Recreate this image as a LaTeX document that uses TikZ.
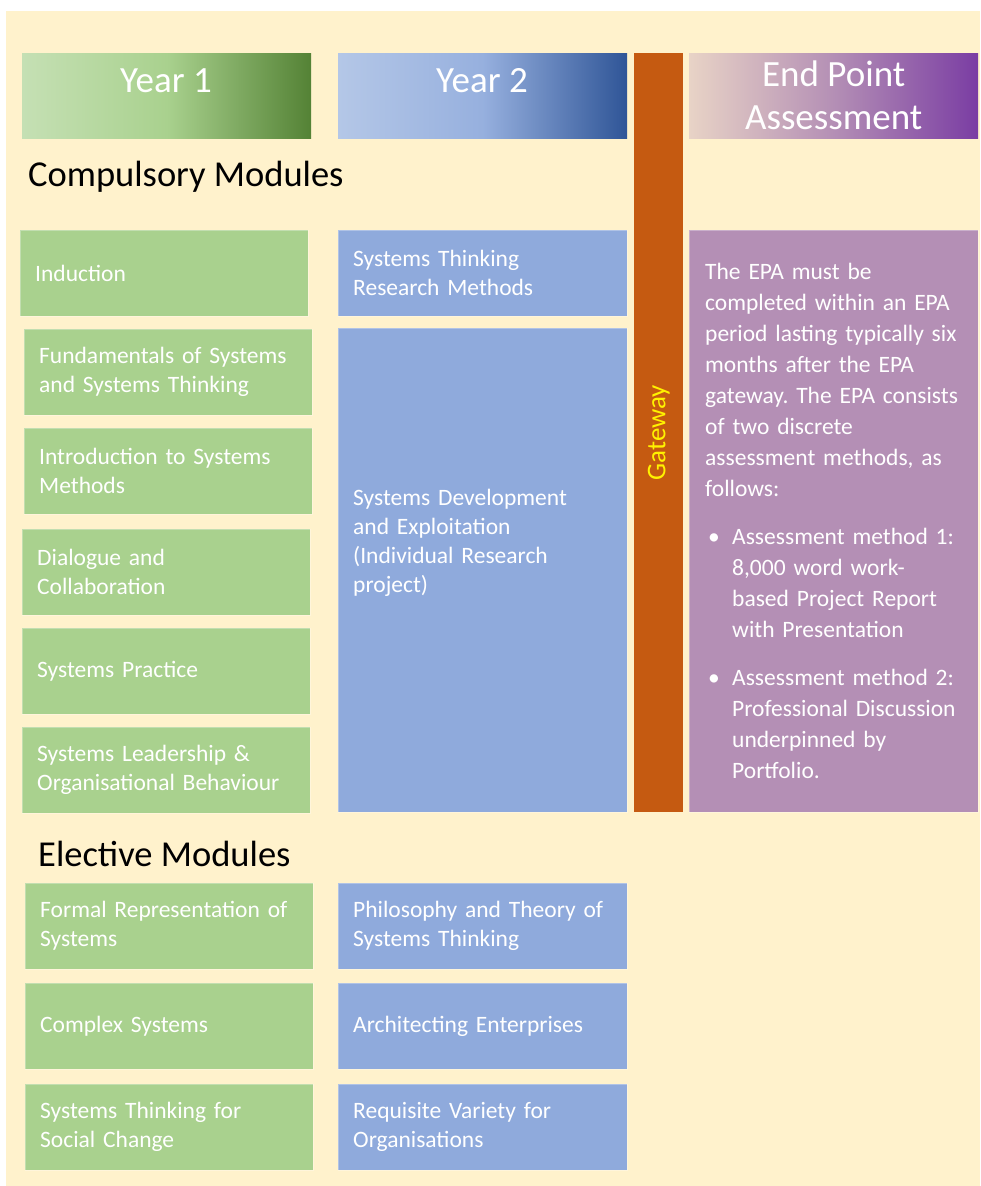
\documentclass[tikz,border=0pt]{standalone}
\usepackage{fontspec}
\setmainfont{Carlito}
\usetikzlibrary{positioning}
\frenchspacing

\definecolor{cream}{HTML}{FFF2CC}
\definecolor{modgreen}{HTML}{A9D18E}
\definecolor{modblue}{HTML}{8FAADC}
\definecolor{gatebrown}{HTML}{C55A11}
\definecolor{epapurple}{HTML}{B48FB5}
\definecolor{greenlight}{HTML}{C5E0B4}
\definecolor{greendark}{HTML}{548235}
\definecolor{bluelight}{HTML}{B4C7E7}
\definecolor{bluedark}{HTML}{2F5597}
\definecolor{epalight}{HTML}{E8D3C6}
\definecolor{epadark}{HTML}{7A3DA3}

\begin{document}
\begin{tikzpicture}[x=1pt,y=-1pt,
	module/.style={anchor=north west, minimum height=86pt, inner xsep=15pt, inner ysep=0pt,
		text width=258pt, align=left, text=white, draw=white, draw opacity=0.3,
		font=\fontsize{23.5}{29}\selectfont},
	header/.style={anchor=north west, minimum width=289pt, minimum height=85pt, inner sep=0pt},
	headtext/.style={text=white, font=\fontsize{37}{43}\selectfont, align=center},
	section/.style={anchor=west, inner sep=0pt, font=\fontsize{36.5}{40}\selectfont}]

\useasboundingbox (0,0) rectangle (980,1186);
\fill[cream] (6,11) rectangle (980,1186);

% headers
\node[header, left color=greenlight, right color=greendark, middle color=modgreen] (yr1) at (22,53) {};
\node[headtext] (yr1t) at (166,81) {Year 1};
\node[header, left color=bluelight, right color=bluedark, middle color=modblue!80!bluelight] (yr2) at (338,53) {};
\node[headtext] (yr2t) at (482,81) {Year 2};
\node[header, left color=epalight, right color=epadark, middle color=epapurple] (epah) at (689,53) {};
\node[headtext] (epaht) at (epah.center) {End Point\\Assessment};

% gateway
\node[anchor=north west, fill=gatebrown, minimum width=49pt, minimum height=759pt, inner sep=0pt] (gate) at (634,53) {};
\node[rotate=90, text=yellow, font=\fontsize{27}{32}\selectfont] (gatet) at (gate.center) {Gateway};

\node[section] (comp) at (28,177) {Compulsory Modules};
\node[section] (elec) at (38,854) {Elective Modules};

% year 1
\foreach \n/\x/\y/\t in {
ind/20/230/Induction%
,fund/24/329/{Fundamentals of Systems\\and Systems Thinking}%
,intro/24/428/{Introduction to Systems\\Methods}%
,dial/22/529/{Dialogue and\\Collaboration}%
,prac/22/628/Systems Practice%
,lead/22/727/{Systems Leadership \&\\Organisational Behaviour}%
,form/25/883/{Formal Representation of\\Systems}%
,cplx/25/983/Complex Systems%
,soc/25/1084/{Systems Thinking for\\Social Change}%
}{
	\node[module, fill=modgreen] (\n) at (\x,\y) {\t};
}

% year 2
\foreach \n/\y/\t in {
strm/230/{Systems Thinking\\Research Methods}%
,phil/883/{Philosophy and Theory of\\Systems Thinking}%
,arch/983/Architecting Enterprises%
,req/1084/{Requisite Variety for\\Organisations}%
}{
	\node[module, fill=modblue, text width=259pt] (\n) at (338,\y) {\t};
}
\node[module, fill=modblue, text width=259pt, minimum height=484pt] (sysdev) at (338,328) {};
\node[module, draw=none, minimum height=0pt, below right=161pt and 0pt of sysdev.north west] (sysdevt)
	{Systems Development\\and Exploitation\\(Individual Research\\project)};

% end point assessment
\node[module, fill=epapurple, text width=257pt, minimum height=582pt, inner xsep=16pt,
	font=\fontsize{23.5}{31}\selectfont] (epa) at (689,230) {The EPA must be\\completed within an EPA\\period lasting typically six\\months after the EPA\\gateway. The EPA consists\\of two discrete\\assessment methods, as\\follows:\\[17pt]
\makebox[27pt][l]{\hspace{3pt}\textbullet}Assessment method 1:\\\hspace*{27pt}8,000 word work-\\\hspace*{27pt}based Project Report\\\hspace*{27pt}with Presentation\\[17pt]
\makebox[27pt][l]{\hspace{3pt}\textbullet}Assessment method 2:\\\hspace*{27pt}Professional Discussion\\\hspace*{27pt}underpinned by\\\hspace*{27pt}Portfolio.};

\end{tikzpicture}
\end{document}
